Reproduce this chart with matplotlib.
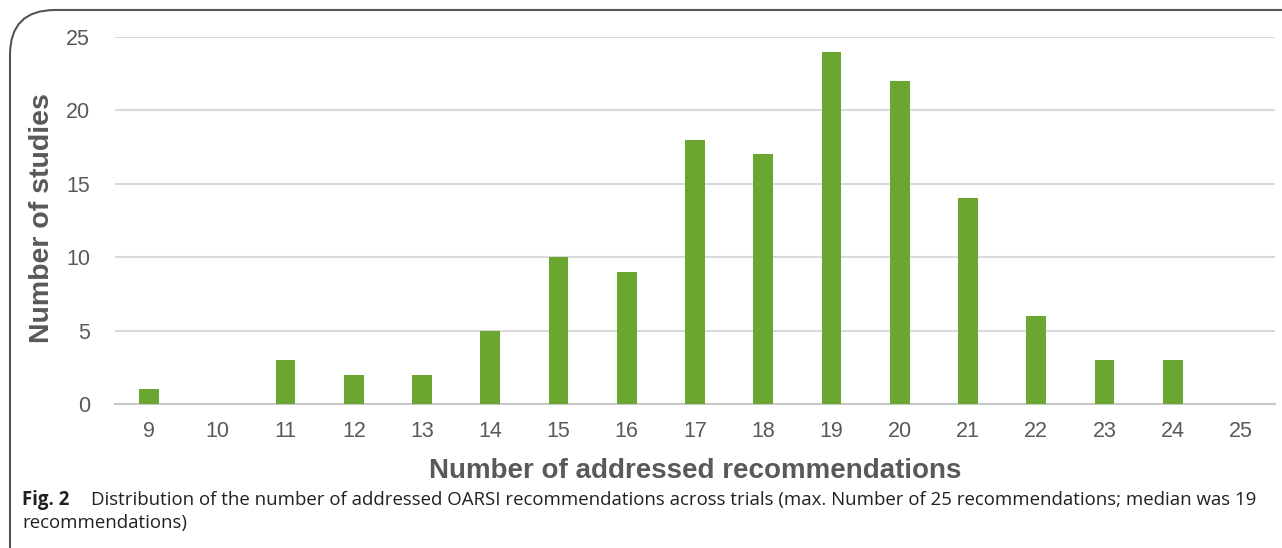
import matplotlib.pyplot as plt
from matplotlib.patches import FancyBboxPatch

# Number of trials by how many OARSI recommendations they addressed
recomendaciones = [9, 10, 11, 12, 13, 14, 15, 16, 17, 18, 19, 20, 21, 22, 23, 24, 25]
estudios = [1, 0, 3, 2, 2, 5, 10, 9, 18, 17, 24, 22, 14, 6, 3, 3, 0]
marcas_y = [0, 5, 10, 15, 20, 25]

W, H = 1282, 548
fig = plt.figure(figsize=(W / 100, H / 100), dpi=100)
ax = fig.add_axes([115 / W, 1 - 404 / H, 1160 / W, 367 / H])

gris = '#595959'
ax.bar(recomendaciones, estudios, width=0.29, color='#6AA630', zorder=3)
ax.set_xlim(8.5, 25.5)
ax.set_ylim(0, 25)
ax.set_xticks(recomendaciones)
ax.set_yticks(marcas_y)
ax.grid(axis='y', color='#d9d9d9', linewidth=1.5, zorder=0)
for s in ['top', 'right', 'left']:
    ax.spines[s].set_visible(False)
ax.spines['bottom'].set_color('#c8c8c8')
ax.spines['bottom'].set_linewidth(1.5)
ax.tick_params(length=0, labelsize=15.5, labelcolor=gris, pad=12)
ax.tick_params(axis='y', pad=18)
for lab in ax.get_xticklabels() + ax.get_yticklabels():
    lab.set_family('Liberation Sans')

fig.text(42 / W, 1 - 218 / H, 'Number of studies', rotation=90, ha='center', va='center',
         fontsize=20.5, fontweight='bold', color=gris, family='Liberation Sans')
fig.text(695 / W, 1 - 471 / H, 'Number of addressed recommendations', ha='center', va='center',
         fontsize=20, fontweight='bold', color=gris, family='Liberation Sans')

# caption under the chart
negro = '#231f20'
fig.text(22 / W, 1 - 500 / H, 'Fig. 2', ha='left', va='center', fontsize=13.4,
         fontweight='bold', family='Open Sans', color=negro)
fig.text(91 / W, 1 - 500 / H,
         'Distribution of the number of addressed OARSI recommendations across trials '
         '(max. Number of 25 recommendations; median was 19',
         ha='left', va='center', fontsize=13.4, family='Open Sans', color=negro)
fig.text(22 / W, 1 - 523 / H, 'recommendations)', ha='left', va='center',
         fontsize=13.4, family='Open Sans', color=negro)

# rounded frame, only top and left edges visible
marco = FancyBboxPatch((10 / W, -0.2), 1.2, 1.2 - 10 / H,
                       boxstyle='round,pad=0,rounding_size=0.035',
                       transform=fig.transFigure, fill=False,
                       edgecolor='#555555', linewidth=1.5, mutation_aspect=W / H)
fig.add_artist(marco)

fig.savefig('out.png', dpi=100)
